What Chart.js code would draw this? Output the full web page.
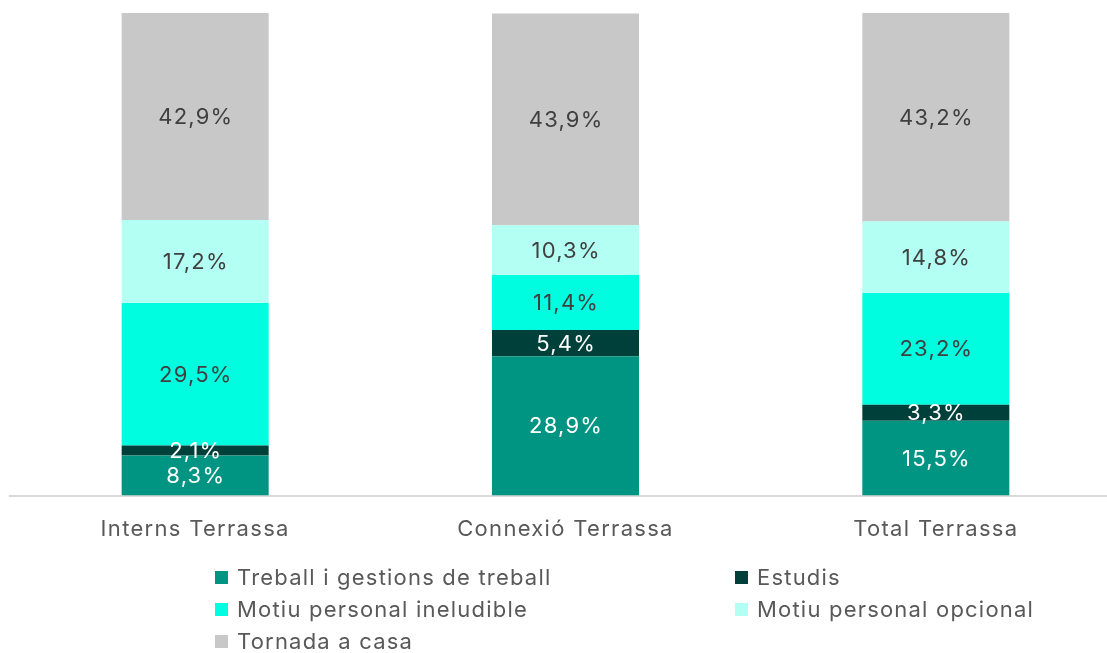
<!DOCTYPE html>
<html>
<head>
<meta charset="utf-8">
<script src="https://cdn.jsdelivr.net/npm/chart.js@4.4.1/dist/chart.umd.min.js"></script>
<style>
html,body{margin:0;padding:0;background:#fff;overflow:hidden;}
#wrap{position:relative;width:1121px;height:653px;}
</style>
</head>
<body>
<div id="wrap"><canvas id="c" width="1121" height="653"></canvas></div>
<script>
const categories = ['Interns Terrassa', 'Connexió Terrassa', 'Total Terrassa'];
const seriesNames = ['Treball i gestions de treball', 'Estudis', 'Motiu personal ineludible', 'Motiu personal opcional', 'Tornada a casa'];
const treball = [8.3, 28.9, 15.5];
const estudis = [2.1, 5.4, 3.3];
const ineludible = [29.5, 11.4, 23.2];
const opcional = [17.2, 10.3, 14.8];
const tornada = [42.9, 43.9, 43.2];

const colors = ['#009483', '#00403A', '#00FDDF', '#B3FFF4', '#C8C8C8'];
const labelColors = ['#ffffff', '#ffffff', '#404040', '#404040', '#404040'];
const FONT = 'Inter, "Noto Sans", sans-serif';

const values = [treball, estudis, ineludible, opcional, tornada];
const datasets = seriesNames.map((n, i) => ({
  label: n,
  data: values[i],
  backgroundColor: colors[i],
  borderWidth: 0,
  barPercentage: 0.397,
  categoryPercentage: 1.0
}));

const spacingPlugin = {
  id: 'spacing',
  beforeDraw(chart) { chart.ctx.letterSpacing = '1.3px'; }
};

const labelPlugin = {
  id: 'valueLabels',
  afterDatasetsDraw(chart) {
    const ctx = chart.ctx;
    ctx.save();
    ctx.letterSpacing = '1.2px';
    ctx.font = '22px ' + FONT;
    ctx.textAlign = 'center';
    ctx.textBaseline = 'middle';
    chart.data.datasets.forEach((ds, i) => {
      const meta = chart.getDatasetMeta(i);
      meta.data.forEach((bar, j) => {
        const v = ds.data[j];
        const yc = (bar.y + bar.base) / 2;
        ctx.fillStyle = labelColors[i];
        ctx.fillText(v.toFixed(1).replace('.', ',') + '%', bar.x + 0.6, yc + 1);
      });
    });
    ctx.restore();
  }
};

const legendPlugin = {
  id: 'gridLegend',
  afterDraw(chart) {
    const ctx = chart.ctx;
    ctx.save();
    ctx.letterSpacing = '1.2px';
    ctx.font = '22px ' + FONT;
    ctx.textBaseline = 'middle';
    ctx.textAlign = 'left';
    const colsX = [215, 735];
    const rowsY = [578, 610, 642];
    chart.data.datasets.forEach((ds, i) => {
      const x = colsX[i % 2];
      const y = rowsY[Math.floor(i / 2)];
      ctx.fillStyle = ds.backgroundColor;
      ctx.fillRect(x, y - 7, 13, 13);
      ctx.fillStyle = '#595959';
      ctx.fillText(ds.label, x + 22, y);
    });
    ctx.restore();
  }
};

new Chart(document.getElementById('c'), {
  type: 'bar',
  data: { labels: categories, datasets },
  options: {
    responsive: false,
    animation: false,
    layout: { padding: { left: 10, right: 0, top: 13, bottom: 89 } },
    plugins: { legend: { display: false }, tooltip: { enabled: false } },
    scales: {
      x: {
        stacked: true,
        grid: { display: false, drawTicks: false },
        border: { display: true, color: '#D9D9D9', width: 2 },
        ticks: { color: '#595959', font: { family: FONT, size: 22 }, padding: 21 }
      },
      y: {
        stacked: true, display: false, min: 0, max: 100
      }
    }
  },
  plugins: [spacingPlugin, labelPlugin, legendPlugin]
});
</script>
</body>
</html>
